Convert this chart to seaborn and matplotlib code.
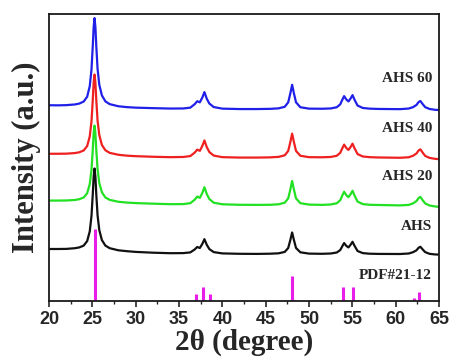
import matplotlib
matplotlib.use("Agg")
import matplotlib.pyplot as plt
import pandas as pd
import seaborn as sns
from matplotlib.ticker import MultipleLocator

# 2theta grid shared by the four patterns
two_theta = [20, 21, 22, 23, 23.5, 24, 24.4, 24.7, 24.9, 25.05, 25.15, 25.25, 25.35, 25.45, 25.6,
             25.8, 26.1, 26.5, 27, 28, 29, 30, 32, 34, 35.5, 36.3, 36.8, 37.1, 37.4, 37.7, 37.93,
             38.2, 38.5, 39, 40, 42, 44, 45.5, 46.5, 47.2, 47.6, 47.85, 48.05, 48.25, 48.5, 49, 50,
             51.5, 52.5, 53.2, 53.6, 53.85, 54.05, 54.3, 54.55, 54.8, 55.02, 55.25, 55.6, 56.2, 57,
             58, 60.5, 61.5, 62, 62.4, 62.65, 62.85, 63.1, 63.4, 63.9, 64.5, 65]

# stacked intensities (arbitrary units, offset already included)
ahs = [51.7, 51.7, 51.8, 52.5, 53.3, 55.1, 59.6, 69.3, 84.8, 106.7,
       123.8, 132.0, 123.7, 106.6, 85.3, 70.5, 60.6, 55.1, 52.5, 50.4,
       49.5, 48.8, 48.0, 47.5, 47.6, 48.3, 51.2, 53.7, 52.7, 57.0,
       61.5, 55.9, 51.6, 48.6, 47.3, 46.9, 46.8, 47.0, 47.4, 48.8,
       52.7, 60.9, 68.2, 60.9, 52.7, 48.4, 47.1, 46.9, 47.2, 48.2,
       50.6, 54.6, 57.6, 54.8, 53.3, 56.0, 58.9, 54.9, 49.7, 47.6,
       47.0, 46.8, 46.7, 47.2, 48.5, 50.4, 53.0, 53.9, 51.4, 48.6,
       46.9, 46.3, 46.1]
ahs20 = [100.0, 100.0, 100.1, 100.6, 101.4, 103.1, 107.3, 116.4, 130.7, 151.2,
         167.2, 174.8, 167.1, 151.1, 131.3, 117.5, 108.3, 103.1, 100.7, 98.8,
         98.0, 97.5, 96.9, 96.4, 96.5, 97.4, 100.8, 104.0, 102.7, 107.9,
         113.3, 106.6, 101.5, 97.9, 96.3, 95.8, 95.7, 95.8, 96.3, 97.9,
         102.2, 111.3, 119.5, 111.3, 102.2, 97.4, 96.0, 95.7, 96.1, 97.3,
         100.3, 105.2, 108.8, 105.4, 103.4, 106.4, 109.8, 105.1, 99.0, 96.5,
         95.8, 95.6, 95.2, 95.7, 97.2, 99.5, 102.6, 103.7, 100.5, 97.2,
         95.1, 94.2, 93.7]
ahs40 = [146.7, 146.7, 146.8, 147.4, 148.2, 150.0, 154.4, 164.0, 179.2, 200.8,
         217.7, 225.7, 217.6, 200.7, 179.8, 165.3, 155.5, 150.2, 147.6, 145.7,
         144.8, 144.3, 143.7, 143.3, 143.5, 144.4, 147.8, 150.8, 149.6, 154.7,
         160.0, 153.4, 148.4, 144.9, 143.3, 142.9, 142.9, 143.1, 143.6, 145.2,
         149.5, 158.6, 166.8, 158.6, 149.5, 144.7, 143.3, 143.2, 143.5, 144.7,
         147.6, 152.3, 155.8, 152.5, 150.5, 153.5, 156.8, 152.2, 146.4, 144.0,
         143.3, 143.0, 142.7, 143.2, 144.7, 147.0, 150.0, 151.1, 148.0, 144.6,
         142.6, 141.7, 141.3]
ahs60 = [195.1, 195.0, 195.2, 195.9, 196.8, 198.8, 203.6, 214.2, 230.8, 254.7,
         273.2, 282.0, 273.1, 254.6, 231.5, 215.5, 204.9, 199.0, 196.2, 194.1,
         193.2, 192.7, 192.2, 191.8, 191.9, 192.7, 196.1, 199.1, 198.0, 203.0,
         208.2, 201.6, 196.8, 193.3, 191.7, 191.3, 191.3, 191.5, 192.0, 193.6,
         198.0, 207.2, 215.5, 207.2, 198.0, 193.1, 191.7, 191.6, 191.9, 193.1,
         196.0, 200.7, 204.2, 200.9, 198.9, 201.9, 205.2, 200.6, 194.8, 192.4,
         191.7, 191.4, 191.2, 191.8, 193.2, 195.4, 198.3, 199.3, 196.4, 193.2,
         191.4, 190.6, 190.3]

# reference card PDF#21-12 (anatase)
pdf_pos = [25.3, 36.95, 37.8, 38.6, 48.05, 53.9, 55.05, 62.15, 62.7]
pdf_height = [72, 7, 14, 7, 25, 14, 14, 3, 9]

sample_names = ["AHS", "AHS 20", "AHS 40", "AHS 60"]
label_y = [74, 124, 172, 222]
colors = {"AHS": "#111111", "AHS 20": "#22e022", "AHS 40": "#ee2020", "AHS 60": "#2020e8"}

rows = []
for name, vals in zip(sample_names, [ahs, ahs20, ahs40, ahs60]):
    for x, y in zip(two_theta, vals):
        rows.append({"two_theta": x, "intensity": y, "sample": name})
df = pd.DataFrame(rows)

sns.set_style("ticks")
plt.rcParams["font.family"] = ["Liberation Serif", "DejaVu Serif"]

fig = plt.figure(figsize=(4.54, 3.62), dpi=100)
ax = fig.add_axes([0.108, 0.169, 0.859, 0.792])

sns.lineplot(data=df, x="two_theta", y="intensity", hue="sample", palette=colors,
             linewidth=1.6, legend=False, ax=ax, sort=False)
ax.vlines(pdf_pos, 0, pdf_height, color="#e81ee8", linewidth=2.2)

for name, y in zip(sample_names, label_y):
    ax.text(64.2, y, name, ha="right", va="center", fontsize=11, fontweight="bold")
ax.text(64.2, 25, "PDF#21-12", ha="right", va="center", fontsize=11, fontweight="bold")

ax.set_xlim(20, 65)
ax.set_ylim(0, 286)
ax.set_yticks([])
ax.xaxis.set_major_locator(MultipleLocator(5))
ax.xaxis.set_minor_locator(MultipleLocator(2.5))
ax.tick_params(axis="x", which="major", direction="out", length=4, width=1.2, pad=3)
ax.tick_params(axis="x", which="minor", direction="out", length=2.5, width=1.0)
for lab in ax.get_xticklabels():
    lab.set_fontfamily("Liberation Sans")
    lab.set_fontweight("bold")
    lab.set_fontsize(13)
for sp in ax.spines.values():
    sp.set_linewidth(1.3)
    sp.set_color("#1a1a1a")

ax.set_xlabel("2θ (degree)", fontsize=21, fontweight="bold", labelpad=1)
ax.set_ylabel("Intensity (a.u.)", fontsize=22, fontweight="bold", labelpad=6)

fig.savefig("out.png", dpi=100)
